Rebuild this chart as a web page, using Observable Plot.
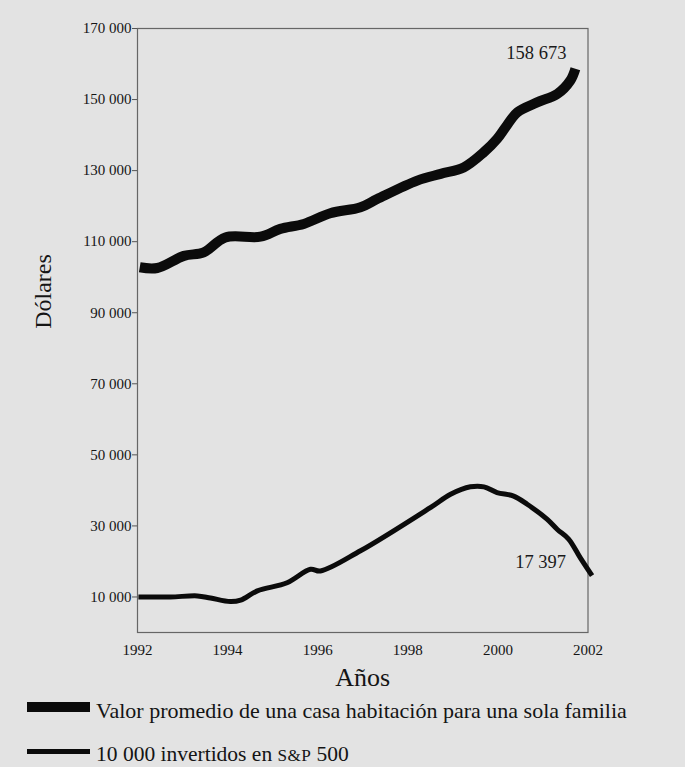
<!DOCTYPE html>
<html>
<head>
<meta charset="utf-8">
<script src="https://cdn.jsdelivr.net/npm/d3@7"></script>
<script src="https://cdn.jsdelivr.net/npm/@observablehq/plot@0.6"></script>
<style>
  html, body { margin: 0; padding: 0; background: #e3e3e3; }
  #wrap { position: relative; width: 685px; height: 767px; background: #e3e3e3; overflow: hidden;
          font-family: "Liberation Serif", "Times New Roman", serif; color: #111; }
  #chart { position: absolute; left: 0; top: 0; }
  .sw { position: absolute; background: #0b0b0b; }
  .lt { position: absolute; line-height: 1; white-space: nowrap; color: #141414; }
  .sc { font-size: 0.8em; letter-spacing: 0.02em; }
</style>
</head>
<body>
<div id="wrap">
  <div id="chart"></div>
  <div class="sw" style="left:27px;top:702px;width:63px;height:10px"></div>
  <div class="lt" id="leg1" style="left:96px;top:700px;font-size:22px"></div>
  <div class="sw" style="left:27px;top:749px;width:63px;height:5px"></div>
  <div class="lt" id="leg2" style="left:96px;top:744px;font-size:21.5px"></div>
</div>
<script>
// ---- data ----
const houseYears = [1992.05, 1992.44, 1993.03, 1993.47, 1993.95, 1994.73, 1995.17, 1995.69, 1996.28, 1996.95,
                    1997.32, 1998.21, 1998.73, 1999.24, 1999.69, 1999.98, 2000.17, 2000.43, 2000.87, 2001.32,
                    2001.61, 2001.72];
const houseValues = [102800, 102600, 106000, 107000, 111200, 111400, 113600, 115000, 118000, 119700,
                     122000, 127200, 129100, 130900, 135200, 138900, 142200, 146400, 149200, 151600,
                     155400, 158673];
const spYears = [1992.02, 1992.73, 1993.33, 1993.62, 1994.06, 1994.29, 1994.66, 1995.32, 1995.84, 1996.06,
                 1996.95, 1998.50, 1998.95, 1999.39, 1999.69, 1999.98, 2000.35, 2000.65, 2001.09, 2001.32,
                 2001.57, 2001.83, 2002.09];
const spValues = [10000, 10000, 10300, 9700, 8700, 9100, 11700, 14000, 17800, 17300,
                  23000, 35150, 38900, 41000, 41000, 39400, 38400, 36100, 31900, 29000,
                  26300, 21000, 16000];
const endLabels = ["158 673", "17 397"];
const yTicks = [10000, 30000, 50000, 70000, 90000, 110000, 130000, 150000, 170000];
const xTicks = [1992, 1994, 1996, 1998, 2000, 2002];
const seriesNames = ["Valor promedio de una casa habitación para una sola familia", "10 000 invertidos en S&P 500"];
const yTitle = "Dólares";
const xTitle = "Años";

// ---- build tables ----
const house = houseYears.map((x, i) => ({x, y: houseValues[i]}));
const sp = spYears.map((x, i) => ({x, y: spValues[i]}));
const houseEnd = [{...house[house.length - 1], t: endLabels[0]}];
const spEnd = [{...sp[sp.length - 1], t: endLabels[1]}];
const fmt = d => d3.format(",")(d).replace(/,/g, " ");

const chart = Plot.plot({
  width: 685,
  height: 692,
  marginLeft: 137,
  marginRight: 97.5,
  marginTop: 28,
  marginBottom: 60,
  style: {background: "transparent", fontFamily: "'Liberation Serif', 'Times New Roman', serif", color: "#151515"},
  x: {domain: [1992, 2002]},
  y: {domain: [0, 170000]},
  marks: [
    Plot.frame({stroke: "#666", strokeWidth: 1.2}),
    Plot.axisY({ticks: yTicks, tickFormat: fmt, tickSize: 5, tickPadding: 1, stroke: "#555", label: null, fontSize: 15}),
    Plot.axisX({ticks: xTicks, tickFormat: d => String(d), tickSize: 0, tickPadding: 12, label: null, fontSize: 15}),
    Plot.line(house, {x: "x", y: "y", stroke: "#0b0b0b", strokeWidth: 10, curve: "catmull-rom", strokeLinejoin: "round", strokeLinecap: "butt", clip: false}),
    Plot.line(sp, {x: "x", y: "y", stroke: "#0b0b0b", strokeWidth: 5, curve: "catmull-rom", strokeLinejoin: "round", strokeLinecap: "butt", clip: false}),
    Plot.text(houseEnd, {x: "x", y: "y", text: "t", textAnchor: "end", lineAnchor: "bottom", dx: -9, dy: -10, fontSize: 18.5, fill: "#1a1a1a"}),
    Plot.text(spEnd, {x: "x", y: "y", text: "t", textAnchor: "end", lineAnchor: "bottom", dx: -26, dy: -8, fontSize: 18.5, fill: "#1a1a1a"}),
    Plot.text([yTitle], {frameAnchor: "left", text: d => d, rotate: -90, dx: -94, dy: -39, fontSize: 24, lineAnchor: "middle", textAnchor: "middle", fill: "#151515"}),
    Plot.text([xTitle], {frameAnchor: "bottom", text: d => d, dy: 45, fontSize: 26, lineAnchor: "middle", textAnchor: "middle", fill: "#151515"})
  ]
});
document.getElementById("chart").appendChild(chart);

document.getElementById("leg1").textContent = seriesNames[0];
const l2 = seriesNames[1];
const k = l2.indexOf("S&P");
const leg2 = document.getElementById("leg2");
leg2.appendChild(document.createTextNode(l2.slice(0, k)));
const sc = document.createElement("span");
sc.className = "sc";
sc.textContent = "S&P";
leg2.appendChild(sc);
leg2.appendChild(document.createTextNode(l2.slice(k + 3)));
</script>
</body>
</html>
